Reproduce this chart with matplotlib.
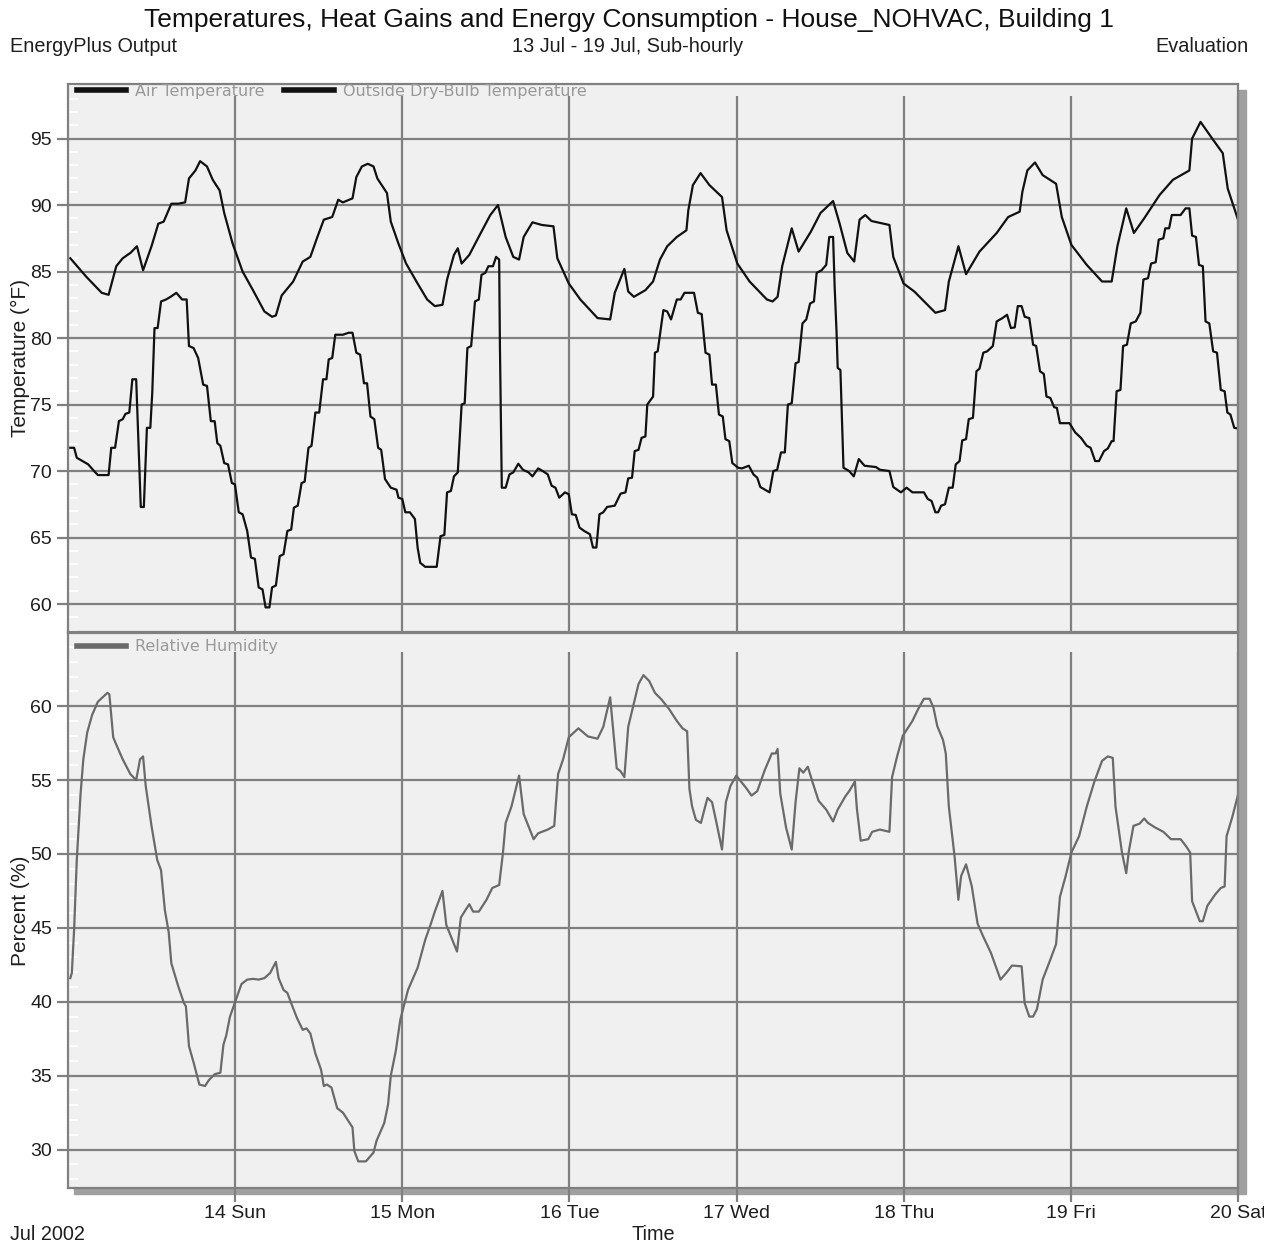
import matplotlib
matplotlib.use("Agg")
import matplotlib.pyplot as plt
from matplotlib.lines import Line2D
from matplotlib.patches import Rectangle
from matplotlib.ticker import MultipleLocator

plt.rcParams['font.family'] = ['Liberation Sans', 'DejaVu Sans']

# hours since 13 Jul 00:00
zone_hours = [0.33, 2.64, 4.84, 5.83, 6.93, 7.86, 8.96, 9.9, 10.78, 11.99, 12.97, 13.74,
              14.84, 15.83, 16.82, 17.37, 18.3, 18.97, 19.96, 20.78, 21.77, 22.43, 23.64,
              25.07, 26.56, 28.2, 29.3, 29.85, 30.68, 32.33, 33.7, 34.8, 35.74, 36.73,
              37.94, 38.8, 39.47, 40.85, 41.4, 42.2, 43.05, 43.87, 44.42, 45.8, 46.35,
              47.45, 48.55, 50.2, 51.57, 52.67, 53.77, 54.43, 55.42, 55.97, 56.52, 57.62,
              59.27, 60.64, 61.74, 62.84, 63.94, 64.77, 65.43, 66.69, 68.06, 69.71, 70.26,
              71.91, 73.56, 76.04, 77.85, 78.51, 79.89, 80.44, 81.26, 82.91, 84.01, 85.0,
              86.04, 87.42, 88.8, 89.07, 89.73, 90.83, 92.1, 93.91, 94.57, 96.11, 97.87,
              100.35, 101.17, 101.89, 102.55, 103.92, 104.91, 106.67, 108.05, 109.86,
              110.8, 111.9, 112.89, 113.66, 114.48, 115.36, 117.95, 118.5, 119.98, 121.52,
              124.55, 125.93, 126.48, 127.86, 128.95, 130.88, 133.35, 135.0, 136.65,
              137.04, 137.75, 138.85, 139.95, 141.88, 142.7, 144.08, 146.28, 148.48,
              149.86, 150.68, 151.95, 153.05, 154.53, 156.73, 158.66, 161.02, 161.41,
              162.62, 164.43, 165.81, 166.52, 168.0]
zone_temp = [86.0, 84.6, 83.4, 83.25, 85.4, 86.0, 86.4, 86.9, 85.1, 86.9, 88.6, 88.75,
             90.1, 90.1, 90.2, 92.0, 92.6, 93.3, 92.9, 91.9, 91.1, 89.4, 87.1,
             85.0, 83.6, 82.0, 81.6, 81.7, 83.2, 84.25, 85.75, 86.1, 87.5, 88.9,
             89.1, 90.4, 90.2, 90.5, 92.1, 92.9, 93.1, 92.9, 92.0, 90.9, 88.75,
             87.1, 85.6, 84.1, 82.9, 82.4, 82.5, 84.4, 86.25, 86.75, 85.6, 86.25,
             87.9, 89.25, 90.0, 87.6, 86.1, 85.9, 87.6, 88.7, 88.5, 88.4, 86.0,
             84.1, 82.9, 81.5, 81.4, 83.4, 85.2, 83.5, 83.1, 83.6, 84.25, 85.9,
             86.9, 87.6, 88.1, 89.6, 91.5, 92.4, 91.5, 90.6, 88.1, 85.6, 84.25,
             82.9, 82.75, 83.1, 85.4, 88.25, 86.5, 88.0, 89.4, 90.3,
             88.6, 86.4, 85.75, 88.9, 89.25, 88.8, 88.5, 86.1, 84.1, 83.5,
             81.9, 82.1, 84.25, 86.9, 84.8, 86.5, 87.9, 89.1, 89.5,
             91.0, 92.6, 93.2, 92.25, 91.6, 89.1, 87.0, 85.5, 84.25,
             84.25, 86.9, 89.75, 87.9, 89.0, 90.75, 91.9, 92.6, 95.0,
             96.25, 94.9, 93.9, 91.25, 88.9]

outdoor_hours = [0.33, 0.88, 1.26, 2.09, 2.91, 3.74, 4.29, 5.83, 6.21, 6.76, 7.31, 7.86,
                 8.25, 8.8, 9.24, 9.79, 10.23, 10.45, 10.89, 11.33, 11.82, 12.1, 12.42,
                 12.87, 13.36, 14.08, 14.73, 15.56, 16.38, 17.04, 17.37, 18.03, 18.69,
                 19.41, 19.96, 20.51, 21.06, 21.44, 21.88, 22.43, 22.98, 23.53, 23.97,
                 24.52, 25.07, 25.73, 26.28, 26.83, 27.38, 27.93, 28.37, 28.92, 29.3,
                 29.85, 30.4, 30.95, 31.5, 32.05, 32.44, 32.99, 33.54, 33.98, 34.53,
                 34.97, 35.52, 36.07, 36.62, 37.11, 37.44, 37.94, 38.38, 39.47, 40.3,
                 40.85, 41.4, 41.95, 42.5, 42.94, 43.43, 43.98, 44.53, 44.97, 45.52,
                 46.35, 47.17, 47.45, 48.0, 48.44, 49.09, 49.81, 50.2, 50.58, 51.29,
                 52.94, 53.49, 54.04, 54.43, 54.98, 55.42, 55.97, 56.52, 56.96, 57.35,
                 57.89, 58.44, 58.99, 59.37, 59.92, 60.37, 61.02, 61.47, 61.91, 62.02,
                 62.29, 62.84, 63.39, 63.94, 64.66, 65.32, 66.14, 66.69, 67.51, 68.17,
                 68.89, 69.44, 69.99, 70.54, 71.36, 71.91, 72.35, 72.9, 73.45, 74.11,
                 74.94, 75.38, 75.87, 76.31, 76.86, 77.41, 78.51, 79.34, 80.05, 80.44,
                 80.99, 81.37, 81.92, 82.36, 82.91, 83.18, 84.01, 84.28, 84.67, 85.49,
                 86.04, 86.59, 87.42, 87.97, 88.52, 89.89, 90.44, 90.99, 91.54, 92.1,
                 92.48, 93.03, 93.47, 94.02, 94.4, 94.95, 95.39, 96.22, 96.77, 97.76,
                 98.42, 98.97, 99.41, 100.07, 100.73, 101.28, 101.83, 102.38, 102.93,
                 103.37, 103.92, 104.47, 104.91, 105.46, 106.01, 106.56, 107.11, 107.5,
                 108.21, 108.87, 109.31, 109.86, 110.08, 110.36, 110.52, 110.91, 111.35,
                 112.17, 112.83, 113.55, 114.37, 116.02, 116.57, 117.95, 118.5, 119.6,
                 120.42, 121.25, 122.9, 123.45, 124.0, 124.55, 124.94, 125.38, 125.93,
                 126.48, 127.03, 127.47, 128.02, 128.4, 128.95, 129.34, 129.94, 130.44,
                 130.88, 131.43, 131.98, 132.8, 133.35, 134.18, 134.84, 135.39, 135.94,
                 136.38, 136.93, 137.37, 138.03, 138.58, 139.02, 139.57, 140.12, 140.5,
                 141.05, 141.6, 141.99, 142.43, 143.8, 144.63, 145.45, 146.28, 146.83,
                 147.49, 148.04, 148.76, 149.31, 149.86, 150.13, 150.57, 151.12, 151.5,
                 152.05, 152.6, 153.32, 153.98, 154.42, 155.08, 155.52, 156.18, 156.62,
                 157.28, 157.56, 158.11, 158.49, 159.76, 160.47, 161.02, 161.41, 161.96,
                 162.4, 162.95, 163.34, 163.88, 164.43, 164.98, 165.53, 166.08, 166.47,
                 166.91, 167.46, 168.0]
outdoor_temp = [71.75, 71.75, 71.0, 70.75, 70.5, 70.0, 69.7, 69.7, 71.75, 71.75, 73.75, 73.9,
                74.3, 74.4, 76.9, 76.9, 70.4, 67.3, 67.3, 73.25, 73.25, 75.9, 80.75,
                80.75, 82.75, 82.9, 83.1, 83.4, 82.9, 82.9, 79.4, 79.25, 78.5,
                76.5, 76.4, 73.75, 73.75, 72.1, 71.9, 70.6, 70.5, 69.1, 69.0,
                66.9, 66.75, 65.5, 63.5, 63.4, 61.25, 61.1, 59.75, 59.75, 61.25,
                61.4, 63.6, 63.75, 65.5, 65.6, 67.25, 67.4, 69.1, 69.2, 71.75,
                71.9, 74.4, 74.4, 76.9, 76.9, 78.4, 78.5, 80.25, 80.25, 80.4,
                80.4, 78.9, 78.75, 76.6, 76.6, 74.1, 73.9, 71.75, 71.6, 69.4,
                68.75, 68.6, 68.0, 67.9, 66.9, 66.9, 66.4, 64.25, 63.1, 62.8,
                62.8, 65.1, 65.2, 68.4, 68.5, 69.6, 69.9, 75.0, 75.1, 79.25,
                79.4, 82.75, 82.9, 84.75, 84.9, 85.4, 85.4, 86.1, 85.9, 79.4,
                68.75, 68.75, 69.75, 69.9, 70.55, 70.1, 69.9, 69.6, 70.2, 70.0,
                69.75, 68.9, 68.75, 68.0, 68.4, 68.25, 66.75, 66.7, 65.75, 65.5,
                65.25, 64.25, 64.25, 66.75, 66.9, 67.3, 67.4, 68.3, 68.4, 69.45,
                69.5, 71.5, 71.6, 72.5, 72.6, 75.0, 75.6, 78.9, 79.0, 82.1,
                82.0, 81.4, 82.9, 82.9, 83.4, 83.4, 81.9, 81.8, 78.9, 78.75,
                76.5, 76.5, 74.25, 74.1, 72.4, 72.25, 70.6, 70.25, 70.2, 70.4,
                69.75, 69.5, 68.8, 68.6, 68.4, 70.0, 70.1, 71.4, 71.4,
                75.0, 75.1, 78.1, 78.2, 81.1, 81.4, 82.6, 82.75, 84.9,
                85.1, 85.5, 87.6, 87.6, 83.9, 80.4, 77.75, 77.6, 70.25,
                70.0, 69.6, 70.9, 70.4, 70.3, 70.1, 70.0, 68.8, 68.4,
                68.75, 68.4, 68.4, 67.9, 67.75, 66.9, 66.9, 67.4, 67.5,
                68.75, 68.75, 70.5, 70.75, 72.3, 72.4, 73.9, 74.0, 77.5,
                77.7, 78.9, 79.0, 79.4, 81.25, 81.5, 81.75, 80.75, 80.8,
                82.4, 82.4, 81.6, 81.5, 79.5, 79.4, 77.5, 77.3, 75.6,
                75.5, 74.8, 74.75, 73.6, 73.6, 72.9, 72.5, 71.9, 71.75,
                70.75, 70.75, 71.5, 71.7, 72.25, 72.25, 76.0, 76.1, 79.4,
                79.5, 81.1, 81.25, 81.9, 84.4, 84.5, 85.6, 85.7, 87.4,
                87.5, 88.25, 88.25, 89.25, 89.25, 89.75, 89.75, 87.7, 87.6,
                85.5, 85.4, 81.25, 81.1, 79.0, 78.9, 76.1, 76.0, 74.4,
                74.25, 73.25, 73.2]

rh_hours = [0.33, 0.55, 0.88, 1.26, 1.81, 2.2, 2.75, 3.46, 4.29, 5.66, 5.94, 6.49, 6.93,
            7.86, 8.96, 9.79, 10.34, 10.78, 11.16, 11.99, 12.81, 13.36, 13.91, 14.46,
            14.84, 15.83, 16.66, 16.93, 17.37, 18.03, 18.86, 19.68, 20.23, 21.06, 21.88,
            22.32, 22.71, 23.26, 24.08, 24.91, 25.73, 26.56, 27.38, 28.2, 29.03, 29.85,
            30.24, 30.95, 31.5, 32.05, 32.88, 33.7, 34.25, 34.8, 35.52, 36.34, 36.73,
            37.17, 37.83, 38.65, 39.48, 40.85, 41.12, 41.68, 42.77, 43.87, 44.31, 45.41,
            45.96, 46.35, 47.06, 47.72, 48.82, 50.2, 51.3, 52.12, 52.67, 53.77, 54.32,
            55.86, 56.41, 57.07, 57.62, 58.17, 58.99, 60.09, 60.92, 61.91, 62.46, 62.84,
            63.67, 64.77, 65.43, 66.86, 67.51, 68.89, 69.82, 70.37, 71.09, 71.91, 73.29,
            74.66, 76.04, 76.86, 77.85, 78.79, 79.34, 79.89, 80.44, 81.26, 81.92, 82.63,
            83.46, 84.28, 85.22, 86.32, 87.42, 88.24, 88.9, 89.23, 89.62, 90.17, 90.88,
            91.82, 92.48, 93.03, 93.91, 94.46, 95.12, 95.95, 97.32, 98.15, 98.97, 100.07,
            101.06, 101.61, 101.89, 102.27, 103.1, 103.92, 104.47, 105.02, 105.57,
            106.23, 106.95, 107.77, 108.87, 109.86, 110.52, 111.62, 112.17, 112.99,
            113.27, 113.82, 114.92, 115.47, 116.57, 117.95, 118.33, 119.05, 119.87,
            121.25, 122.07, 122.9, 123.72, 124.27, 124.82, 125.65, 126.04, 126.48,
            127.3, 127.85, 128.24, 128.95, 129.78, 130.6, 131.43, 132.53, 133.9, 134.73,
            135.55, 136.93, 137.37, 138.03, 138.58, 139.13, 139.95, 141.05, 141.88,
            142.43, 143.25, 144.08, 145.18, 146.28, 147.38, 148.48, 149.31, 150.02,
            150.41, 151.34, 151.95, 152.33, 152.99, 153.87, 154.53, 155.08, 156.07,
            157.28, 158.38, 159.76, 160.58, 161.13, 161.41, 162.51, 162.95, 163.61,
            164.71, 165.53, 166.08, 166.36, 167.18, 168.0]
rh_pct = [41.6, 41.95, 44.9, 49.6, 54.1, 56.4, 58.2, 59.4, 60.3, 60.9, 60.8, 57.9, 57.4,
          56.4, 55.4, 55.0, 56.4, 56.6, 54.6, 51.9, 49.6, 48.9, 46.2, 44.7,
          42.6, 41.05, 39.9, 39.7, 37.0, 35.9, 34.4, 34.3, 34.7, 35.1, 35.2,
          37.1, 37.7, 39.0, 40.1, 41.2, 41.5, 41.55, 41.5, 41.6, 41.95, 42.7,
          41.6, 40.8, 40.6, 39.9, 38.9, 38.1, 38.2, 37.85, 36.5, 35.4, 34.3,
          34.4, 34.2, 32.8, 32.5, 31.5, 29.9, 29.2, 29.2, 29.8, 30.6, 31.8,
          33.05, 35.0, 36.65, 38.8, 40.8, 42.3, 44.2, 45.3, 46.1, 47.5, 45.2,
          43.4, 45.7, 46.2, 46.6, 46.1, 46.1, 46.9, 47.7, 47.9, 50.1, 52.1,
          53.2, 55.3, 52.7, 51.0, 51.4, 51.65, 51.9, 55.4, 56.4, 57.9, 58.5,
          57.95, 57.8, 58.6, 60.6, 55.8, 55.6, 55.2, 58.6, 60.2, 61.5, 62.1,
          61.7, 60.9, 60.45, 59.8, 59.0, 58.5, 58.3, 54.4, 53.2, 52.3, 52.1,
          53.8, 53.5, 52.3, 50.3, 53.5, 54.6, 55.3, 54.5, 53.95, 54.25, 55.7,
          56.8, 56.8, 57.1, 54.1, 51.8, 50.3, 53.5, 55.8, 55.5,
          55.9, 54.8, 53.6, 53.0, 52.2, 53.0, 53.9, 54.25, 54.9,
          53.1, 50.9, 51.0, 51.5, 51.65, 51.5, 55.2, 56.6, 58.0,
          59.0, 59.8, 60.5, 60.5, 59.9, 58.65, 57.7, 56.8, 53.2,
          49.85, 46.9, 48.5, 49.3, 47.8, 45.3, 44.4, 43.3, 41.5, 41.95,
          42.45, 42.4, 39.9, 39.0, 39.0, 39.5, 41.5, 42.85, 43.9,
          47.1, 48.5, 50.1, 51.2, 53.2, 54.9, 56.3, 56.6, 56.5,
          53.2, 50.1, 48.7, 50.2, 51.9, 52.05, 52.4, 52.1, 51.8,
          51.5, 51.0, 51.0, 50.5, 50.1, 46.8, 45.45, 45.45, 46.5,
          47.25, 47.7, 47.8, 51.2, 52.5, 54.0]

day_ticks = [24, 48, 72, 96, 120, 144, 168]
day_labels = ['14 Sun', '15 Mon', '16 Tue', '17 Wed', '18 Thu', '19 Fri', '20 Sat']

W, H = 1264, 1243
fig = plt.figure(figsize=(W / 100, H / 100), dpi=100)

L, R = 68, 1238
top_y0, top_y1 = 84, 632
bot_y0, bot_y1 = 633, 1188

def fig_rect(x0, y0, x1, y1):
    return [x0 / W, 1 - y1 / H, (x1 - x0) / W, (y1 - y0) / H]

# drop shadow behind both panels
fig.patches.append(Rectangle(((L + 6) / W, 1 - (bot_y1 + 6) / H),
                             (R - L + 2) / W, (bot_y1 - top_y0) / H,
                             transform=fig.transFigure, color='#a0a0a0', zorder=-5))

ax1 = fig.add_axes(fig_rect(L, top_y0, R, top_y1))
ax2 = fig.add_axes(fig_rect(L, bot_y0, R, bot_y1))

grid_col = '#808080'
txt_col = '#1e1e1e'
for ax in (ax1, ax2):
    ax.set_facecolor('#f0f0f0')
    for s in ax.spines.values():
        s.set_color(grid_col)
        s.set_linewidth(1.6)
    ax.set_xlim(0, 168)
    ax.set_xticks(day_ticks)
    ax.tick_params(axis='both', colors=grid_col, labelcolor=txt_col,
                   labelsize=14, width=1.6, length=8)
    ax.tick_params(axis='y', which='minor', direction='in', colors='white',
                   width=1.2, length=7)
    ax.yaxis.grid(True, color=grid_col, linewidth=1.6)

ax1.plot(zone_hours, zone_temp, color='#111111', lw=1.6)
ax1.plot(outdoor_hours, outdoor_temp, color='#111111', lw=1.6)
ax1.set_ylim(57.9, 99.1)
ax1.set_yticks(range(60, 100, 5))
ax1.yaxis.set_minor_locator(MultipleLocator(1))
ax1.tick_params(axis='x', length=0, labelbottom=False)
ax1.vlines(day_ticks, 0, 0.978, transform=ax1.get_xaxis_transform(),
           color=grid_col, lw=1.6, zorder=0.5)
ax1.set_ylabel('Temperature (°F)', fontsize=15, color=txt_col, labelpad=0)

ax2.plot(rh_hours, rh_pct, color='#6a6a6a', lw=1.6)
ax2.set_ylim(27.4, 64.95)
ax2.set_yticks(range(30, 65, 5))
ax2.yaxis.set_minor_locator(MultipleLocator(1))
ax2.set_xticklabels(day_labels)
ax2.tick_params(axis='x', length=10, pad=2)
ax2.vlines(day_ticks, 0, 0.965, transform=ax2.get_xaxis_transform(),
           color=grid_col, lw=1.6, zorder=0.5)
ax2.set_ylabel('Percent (%)', fontsize=15, color=txt_col, labelpad=0)

leg_kw = dict(loc='upper left', frameon=False,
              prop={'family': 'DejaVu Sans', 'size': 11.5}, labelcolor='#999999',
              handlelength=3.1, handletextpad=0.55, columnspacing=1.25,
              borderpad=0, borderaxespad=0)
ax1.legend([Line2D([], [], color='#111111', lw=4),
            Line2D([], [], color='#111111', lw=4)],
           ['Air Temperature', 'Outside Dry-Bulb Temperature'], ncol=2,
           bbox_to_anchor=(0.0073, 1.0), **leg_kw)
ax2.legend([Line2D([], [], color='#6a6a6a', lw=4)], ['Relative Humidity'],
           bbox_to_anchor=(0.0073, 0.989), **leg_kw)

fig.text(629 / W, 1 - 20 / H, 'Temperatures, Heat Gains and Energy Consumption - House_NOHVAC, Building 1',
         ha='center', va='center', fontsize=19, color='#111111')
fig.text(10 / W, 1 - 46 / H, 'EnergyPlus Output', ha='left', va='center', fontsize=14.3, color=txt_col)
fig.text(628 / W, 1 - 46 / H, '13 Jul - 19 Jul, Sub-hourly', ha='center', va='center', fontsize=14.3, color=txt_col)
fig.text(1249 / W, 1 - 46 / H, 'Evaluation', ha='right', va='center', fontsize=14.3, color=txt_col)
fig.text(10 / W, 1 - 1235 / H, 'Jul 2002', ha='left', va='center', fontsize=14.3, color=txt_col)
fig.text(653 / W, 1 - 1234 / H, 'Time', ha='center', va='center', fontsize=14.3, color=txt_col)

fig.savefig('out.png', dpi=100)
